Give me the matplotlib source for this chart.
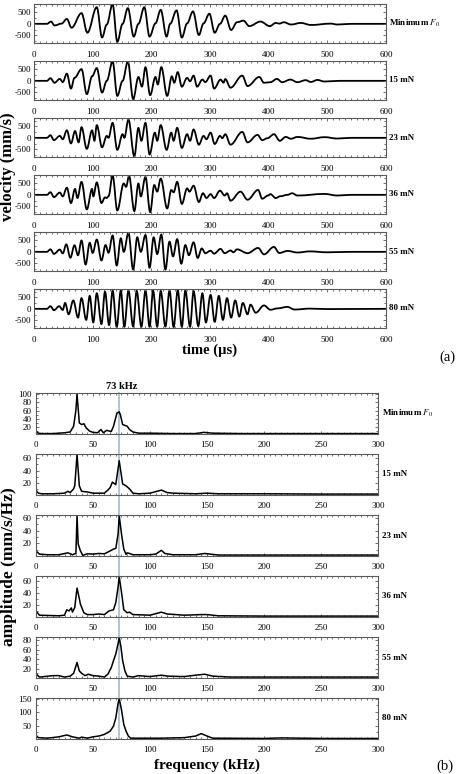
import matplotlib
matplotlib.use('Agg')
import matplotlib.pyplot as plt
from matplotlib.ticker import MultipleLocator, FixedLocator
from matplotlib.lines import Line2D
from matplotlib.path import Path
from matplotlib.patches import PathPatch
import matplotlib.transforms as mtransforms

plt.rcParams['font.family'] = ['Liberation Serif', 'DejaVu Serif']
plt.rcParams['mathtext.fontset'] = 'stix'
plt.rcParams['axes.unicode_minus'] = False

# force labels (same for both panels)
labels = [r'Minimum $\mathit{F}_0$', '15 mN', '23 mN', '36 mN', '55 mN', '80 mN']

# (a) velocity traces, time in us, velocity in mm/s (extrema)
t1 = [0, 22, 29, 35, 47, 56, 64, 81, 91, 107, 116, 124, 134, 142, 151, 160, 170, 178, 188, 197,
      207, 216, 226, 232, 243, 252, 261, 271, 281, 289, 299, 308, 317, 326, 336, 346, 357, 367, 386, 402,
      412, 418, 426, 438, 455, 472, 506, 517, 540, 600]
v1 = [0, 0, 100, -70, 10, 215, -170, 470, -390, 730, -600, -30, 860, -790, 0, 690, -560, 0, 730, -560,
      20, 615, -560, 0, 590, -600, 20, 545, -490, 20, 445, -390, 0, 360, -270, 70, 140, -100, 100, -100,
      40, 10, 70, -30, 40, -50, 10, -30, 0, 0]

t2 = [0, 22, 28, 35, 44, 49, 56, 63, 69, 81, 90, 99, 107, 116, 124, 134, 142, 151, 160, 169,
      178, 184, 190, 198, 207, 211, 217, 227, 235, 239, 245, 252, 261, 266, 272, 278, 287, 292, 301, 307,
      318, 323, 326, 335, 355, 364, 384, 392, 403, 414, 423, 437, 449, 463, 472, 483, 495, 520, 600]
v2 = [0, 0, 115, -85, 85, -55, 315, -340, 130, 515, -585, 200, 560, -515, 0, 850, -660, 0, 845, -800,
      170, -255, 600, -630, 170, -160, 600, -660, 200, -85, 385, -255, 130, -20, 230, -255, 55, -55, 230, -340,
      55, -80, 80, -300, 230, -230, 170, -85, -60, 85, -60, 55, -60, 30, -50, 40, -30, 0, 0]

t3 = [0, 22, 28, 34, 44, 49, 56, 63, 70, 76, 81, 90, 99, 103, 107, 116, 124, 127, 134, 142,
      151, 154, 161, 171, 178, 183, 190, 197, 206, 210, 216, 226, 234, 238, 244, 252, 261, 266, 272, 281,
      289, 294, 301, 308, 317, 321, 326, 335, 355, 364, 381, 389, 398, 409, 419, 429, 438, 449, 472, 495,
      517, 540, 600]
v3 = [0, 0, 115, -100, 85, -60, 330, -245, 300, -200, 470, -485, 330, -130, 560, -415, 85, 0, 660, -530,
      160, 0, 800, -815, 440, -130, 660, -730, 230, -130, 560, -530, 230, -130, 440, -445, 160, -130, 370, -300,
      85, -60, 230, -270, 85, -15, 160, -300, 260, -200, 130, -100, -15, 160, -130, 40, -40, 40, -40, 30,
      -30, 0, 0]

t4 = [0, 22, 28, 34, 44, 49, 56, 63, 70, 74, 81, 90, 99, 101, 107, 115, 121, 124, 127, 134,
      142, 153, 157, 162, 171, 178, 182, 190, 198, 205, 210, 216, 227, 234, 238, 244, 252, 261, 265, 272,
      281, 288, 294, 301, 307, 317, 325, 329, 335, 352, 364, 382, 389, 399, 403, 412, 420, 432, 440, 449,
      495, 517, 540, 600]
v4 = [0, 0, 115, -100, 100, -70, 315, -360, 260, -140, 570, -640, 260, -70, 545, -360, -110, -140, -60, 850,
      -685, 500, 350, 830, -715, 500, -70, 785, -760, 430, 140, 715, -600, 215, 110, 570, -400, 285, 140, 400,
      -315, 70, -140, 30, -140, 185, -30, 70, -255, 140, -215, 215, -170, -30, 30, -140, -60, 0, 70, -30,
      40, -30, 0, 0]

t5 = [0, 22, 28, 34, 44, 49, 55, 62, 69, 75, 81, 88, 95, 100, 107, 115, 122, 127, 134, 141,
      148, 153, 161, 169, 176, 182, 190, 197, 204, 210, 217, 224, 231, 237, 244, 251, 258, 264, 272, 279,
      286, 292, 301, 307, 318, 325, 335, 340, 346, 364, 382, 392, 409, 418, 432, 449, 470, 500, 540, 600]
v5 = [0, 0, 110, -90, 100, -70, 330, -260, 290, -150, 500, -560, 400, -50, 540, -380, 300, -40, 720, -600,
      600, 0, 830, -780, 640, 0, 740, -700, 640, -100, 760, -780, 450, -200, 560, -520, 300, -150, 420, -270,
      150, -60, 50, -80, 130, -60, 60, -20, 110, -60, 170, -110, 215, -50, 40, -30, 20, -20, 0, 0]

t6 = [0, 22, 28, 34, 43, 49, 53, 59, 67, 75, 81, 89, 95, 101, 107, 115, 121, 128, 134, 141,
      148, 154, 161, 169, 175, 183, 190, 197, 203, 210, 216, 224, 231, 238, 245, 252, 258, 266, 272, 280,
      287, 293, 301, 308, 315, 322, 329, 336, 343, 350, 356, 364, 369, 378, 392, 403, 415, 432, 444, 470,
      500, 600]
v6 = [0, 0, 115, -60, 115, -50, 260, -240, 370, -385, 470, -485, 570, -600, 685, -670, 757, -715, 800, -800,
      800, -790, 800, -780, 790, -790, 800, -790, 800, -790, 790, -780, 800, -800, 810, -800, 800, -790, 780, -760,
      685, -600, 615, -570, 570, -485, 470, -385, 370, -340, 260, -240, 185, -170, 150, -40, 20, 85, -30, 10,
      -10, 0]

# (b) spectra, frequency in kHz, amplitude in mm/s/Hz
f1 = [0, 2, 5, 15, 25, 30, 33, 35, 36, 37, 38, 40, 42, 44, 47, 50, 54, 57, 59, 62,
      66, 68, 71, 73, 74, 76, 78, 80, 82, 85, 90, 100, 120, 140, 147, 155, 180, 220, 260, 300]
a1 = [10, 5, 4, 4, 6, 8, 22, 61, 100, 65, 30, 26, 28, 18, 10, 7, 6, 14, 6, 12,
      9, 22, 54, 57, 50, 26, 24, 22, 14, 8, 5, 5, 4, 4, 7, 5, 4, 4, 4, 4]
f2 = [0, 2, 5, 15, 25, 28, 30, 33, 34, 36, 38, 40, 45, 50, 55, 60, 63, 65, 67, 70,
      73, 76, 79, 82, 85, 90, 100, 106, 110, 115, 120, 140, 150, 160, 200, 250, 300]
a2 = [8, 3, 2, 2, 3, 6, 4, 10, 15, 66, 15, 6, 5, 3, 3, 3, 8, 12, 21, 17,
      56, 18, 15, 10, 3, 2, 3, 6, 8, 4, 3, 2, 3, 2, 2, 1.5, 1.5]
f3 = [0, 3, 10, 20, 28, 32, 35, 36, 37, 39, 41, 45, 50, 55, 60, 65, 68, 70, 72, 73,
      75, 77, 79, 80, 82, 85, 100, 105, 110, 113, 120, 140, 148, 160, 200, 250, 300]
a3 = [8, 3, 2, 2, 5, 2, 4, 63, 19, 8, 1, 3.5, 3, 4, 3.5, 8, 11, 12, 35, 64,
      35, 11, 2.5, 5, 4, 2, 2, 3, 9, 4, 2, 2, 4, 1.5, 1.5, 1.5, 1.5]
f4 = [0, 3, 20, 25, 27, 29, 31, 32, 34, 36, 37.5, 39, 42, 45, 50, 55, 60, 64, 68, 70,
      72, 73, 75, 77, 80, 82, 85, 100, 110, 115, 130, 145, 150, 160, 200, 250, 300]
a4 = [10, 3, 2, 3, 12, 10, 15, 8, 16, 48, 35, 21, 7, 4, 4, 5, 4, 10, 12, 24,
      50, 67, 41, 12, 7, 8, 4, 3, 8, 5, 3, 4, 4, 2, 1.5, 1.5, 1.5]
f5 = [0, 3, 15, 20, 25, 30, 33, 36, 38, 40, 43, 46, 50, 55, 60, 63, 66, 68, 70, 72,
      73, 74.5, 76, 78, 80, 85, 90, 100, 110, 115, 130, 140, 148, 155, 170, 220, 300]
a5 = [9, 2, 5, 5, 2, 4, 10, 33, 15, 10, 5, 8, 5, 4, 2, 8, 22, 37, 51, 73,
      86, 66, 37, 15, 4, 2, 5, 3, 6, 4, 3, 6, 8, 4, 2, 2, 2]
f6 = [0, 2, 10, 20, 27, 32, 38, 40, 45, 50, 55, 60, 65, 68, 70, 72, 73, 75, 77, 79,
      81, 83, 90, 110, 130, 140, 145, 150, 155, 200, 215, 250, 300]
a6 = [14, 5, 3, 8, 15, 8, 3, 7, 3, 8, 11, 17, 29, 48, 78, 132, 150, 108, 54, 29,
      11, 3, 3, 3, 5, 11, 20, 11, 3, 2, 4, 2, 2]

amp_ylims = [(3, 103), (0, 67), (0, 65), (0, 68), (0, 87), (0, 152)]
amp_yticks = [[20, 40, 60, 80, 100], [20, 40, 60], [20, 40, 60], [20, 40, 60], [20, 40, 60, 80], [50, 100, 150]]
peak_khz = 73

traces = [(t1, v1), (t2, v2), (t3, v3), (t4, v4), (t5, v5), (t6, v6)]
spectra = [(f1, a1), (f2, a2), (f3, a3), (f4, a4), (f5, a5), (f6, a6)]

W, H = 464, 774
fig = plt.figure(figsize=(W / 100, H / 100), dpi=100)
frame = '#5a5a5a'


def add_px_axes(left, top, width, height):
    ax = fig.add_axes([left / W, 1 - (top + height) / H, width / W, height / H])
    ax.set_facecolor('none')
    for s in ax.spines.values():
        s.set_color(frame)
        s.set_linewidth(0.8)
    ax.tick_params(which='both', direction='in', top=True, right=True, color=frame,
                   labelsize=6.5, width=0.6)
    ax.tick_params(which='major', length=2.5)
    ax.tick_params(which='minor', length=1.3)
    return ax


def smooth_path(x, y, k=0.36):
    # bezier through the extrema, flat tangent at each read point (wave-like look)
    verts = [(x[0], y[0])]
    codes = [Path.MOVETO]
    for i in range(len(x) - 1):
        dx = x[i + 1] - x[i]
        verts += [(x[i] + k * dx, y[i]), (x[i + 1] - k * dx, y[i + 1]), (x[i + 1], y[i + 1])]
        codes += [Path.CURVE4] * 3
    return Path(verts, codes)


# panel (a)
for i, (t, v) in enumerate(traces):
    ax = add_px_axes(34, 4 + i * 57, 352, 39)
    ax.add_patch(PathPatch(smooth_path(t, v), facecolor='none', edgecolor='black', lw=1.3,
                           joinstyle='round', capstyle='round'))
    ax.set_xlim(0, 600)
    ax.set_ylim(-840, 870)
    ax.xaxis.set_major_locator(MultipleLocator(100))
    ax.xaxis.set_minor_locator(MultipleLocator(10))
    ax.yaxis.set_major_locator(FixedLocator([-500, 0, 500]))
    ax.yaxis.set_minor_locator(MultipleLocator(250))
    ax.tick_params(axis='x', pad=5.5)
    ax.tick_params(axis='y', pad=2)
    ax.text(1.008, 0.5, labels[i], transform=ax.transAxes, fontsize=6.5, fontweight='bold',
            va='center', ha='left')

fig.text(8 / W, 1 - 167 / H, 'velocity (mm/s)', rotation=90, fontsize=12, fontweight='bold',
         ha='center', va='center')
fig.text(210 / W, 1 - 350 / H, 'time (µs)', fontsize=10.5, fontweight='bold', ha='center', va='center')
fig.text(447 / W, 1 - 357 / H, '(a)', fontsize=10.5, ha='center', va='center')

# panel (b)
axes_b = []
for i, (f, a) in enumerate(spectra):
    ax = add_px_axes(36, 393 + i * 61, 342, 41)
    ax.plot(f, a, color='black', lw=1.1)
    ax.set_xlim(0, 300)
    ax.set_ylim(*amp_ylims[i])
    ax.xaxis.set_major_locator(MultipleLocator(50))
    ax.xaxis.set_minor_locator(MultipleLocator(5))
    ax.yaxis.set_major_locator(FixedLocator(amp_yticks[i]))
    step = amp_yticks[i][1] - amp_yticks[i][0]
    ax.yaxis.set_minor_locator(MultipleLocator(step / 2))
    ax.tick_params(axis='x', pad=5)
    ax.tick_params(axis='y', pad=3)
    ax.text(1.012, 0.5, labels[i], transform=ax.transAxes, fontsize=6.5, fontweight='bold',
            va='center', ha='left')
    axes_b.append(ax)

# 73 kHz marker running through all spectra
blend = mtransforms.blended_transform_factory(axes_b[0].transData, fig.transFigure)
fig.add_artist(Line2D([peak_khz, peak_khz], [1 - 739 / H, 1 - 393 / H], transform=blend,
                      color='#a9c2d0', lw=1.3, zorder=-1))
fig.text(122 / W, 1 - 386 / H, f'{peak_khz} kHz', fontsize=7.5, fontweight='bold', ha='center', va='center')

fig.text(9 / W, 1 - 567 / H, 'amplitude (mm/s/Hz)', rotation=90, fontsize=12.5, fontweight='bold',
         ha='center', va='center')
fig.text(207 / W, 1 - 765 / H, 'frequency (kHz)', fontsize=11, fontweight='bold', ha='center', va='center')
fig.text(445 / W, 1 - 766 / H, '(b)', fontsize=10.5, ha='center', va='center')

fig.savefig('out.png', dpi=100)
